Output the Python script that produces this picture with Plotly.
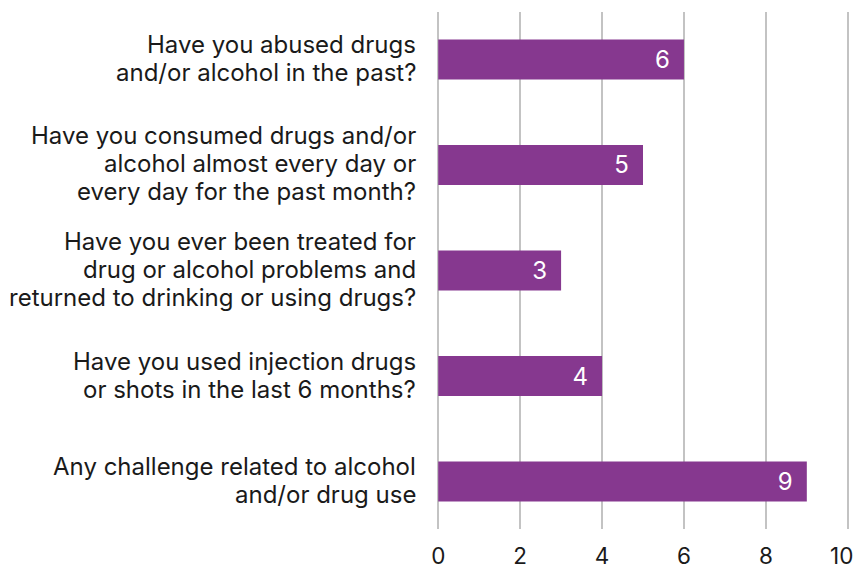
import plotly.graph_objects as go

categories = [
    "Have you abused drugs<br>and/or alcohol in the past?",
    "Have you consumed drugs and/or<br>alcohol almost every day or<br>every day for the past month?",
    "Have you ever been treated for<br>drug or alcohol problems and<br>returned to drinking or using drugs?",
    "Have you used injection drugs<br>or shots in the last 6 months?",
    "Any challenge related to alcohol<br>and/or drug use",
]
values = [6, 5, 3, 4, 9]
x_ticks = [0, 2, 4, 6, 8, 10]
x_tick_labels = ["0", "2", "4", "6", "8", "10"]

BAR_COLOR = "#86388F"
TEXT_COLOR = "#1a1a1a"
FONT = "Inter"
LINE_GAP = 28

fig = go.Figure(
    go.Bar(
        y=categories,
        x=values,
        orientation="h",
        marker=dict(color=BAR_COLOR, line=dict(width=0)),
        width=0.38,
        text=[str(v) + "\u00a0\u2009" for v in values],
        textposition="inside",
        insidetextanchor="end",
        textfont=dict(color="white", size=24, family=FONT),
        hoverinfo="skip",
    )
)

# category labels, one annotation per line to match the tighter line spacing
for cat in categories:
    lines = cat.split("<br>")
    n = len(lines)
    for i, line in enumerate(lines):
        fig.add_annotation(
            x=0, xref="paper", y=cat, yref="y",
            text=line, showarrow=False,
            xanchor="right", yanchor="middle",
            xshift=-19, yshift=((n - 1) / 2 - i) * LINE_GAP + 1,
            font=dict(family=FONT, size=24, color=TEXT_COLOR),
        )

# last tick label is nudged inward so it stays inside the canvas
fig.add_annotation(
    x=x_ticks[-1], xref="x", y=0, yref="paper",
    text=x_tick_labels[-1], showarrow=False,
    xanchor="center", yanchor="middle",
    xshift=-6, yshift=-26,
    font=dict(family=FONT, size=22.5, color=TEXT_COLOR),
)

fig.update_layout(
    width=857,
    height=569,
    margin=dict(l=437, r=8, t=12, b=40),
    plot_bgcolor="white",
    paper_bgcolor="white",
    font=dict(family=FONT, size=24, color=TEXT_COLOR),
    showlegend=False,
)
fig.update_xaxes(
    range=[-0.03, 10.03],
    tickvals=x_ticks,
    ticktext=x_tick_labels[:-1] + [""],
    showgrid=True,
    gridcolor="#c3c3c3",
    gridwidth=1.8,
    zeroline=False,
    showline=False,
    ticks="",
    ticklabelstandoff=11,
    ticklabeloverflow="allow",
    tickfont=dict(size=22.5, color=TEXT_COLOR, family=FONT),
    automargin=False,
)
fig.update_yaxes(
    categoryorder="array",
    categoryarray=categories,
    range=[4.45, -0.45],
    showgrid=False,
    zeroline=False,
    showline=False,
    showticklabels=False,
    ticks="",
    automargin=False,
)

fig.write_html(
    "out.html",
    config={"displayModeBar": False},
    post_script="document.body.style.margin='0';document.body.style.overflow='hidden';",
)
